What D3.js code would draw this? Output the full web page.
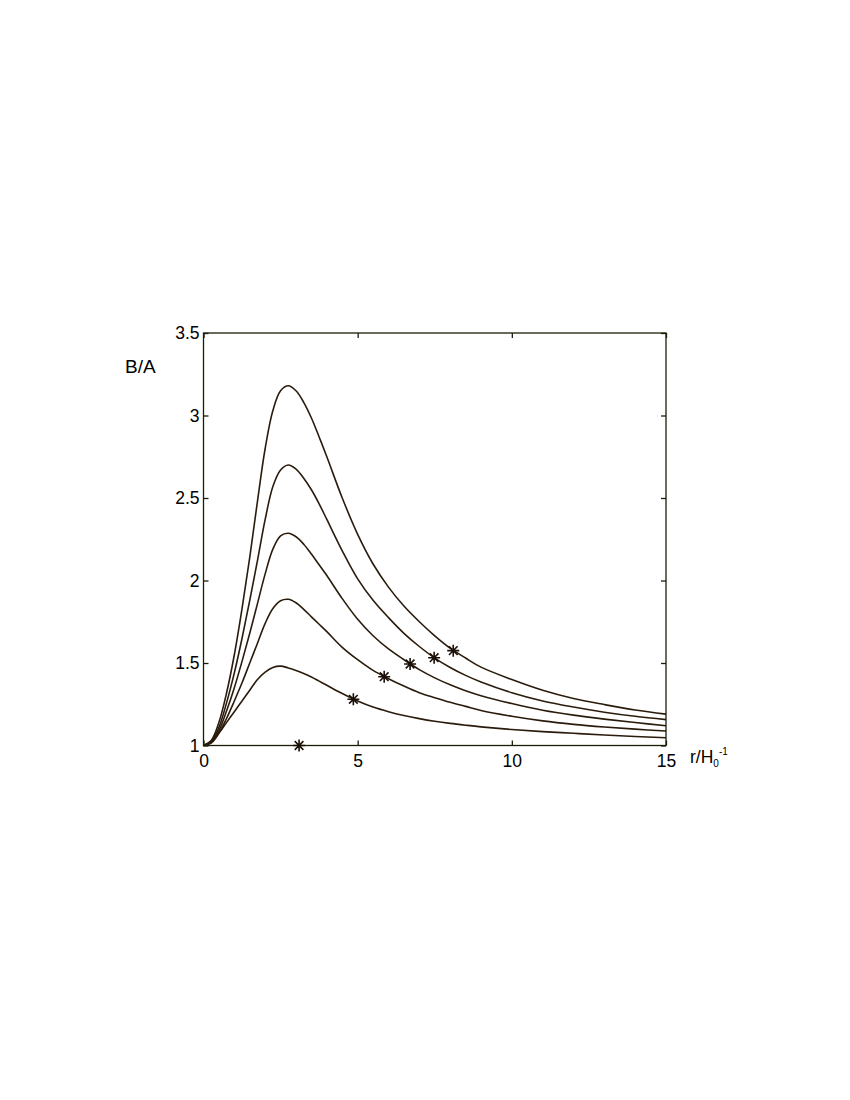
<!DOCTYPE html>
<html><head><meta charset="utf-8">
<script src="https://cdn.jsdelivr.net/npm/d3@7"></script>
<style>body{margin:0;background:#fff}svg{display:block}text{font-family:"Liberation Sans",Arial,sans-serif;fill:#000}</style>
</head><body><svg id="c" width="850" height="1100"></svg>
<script>
const rGrid = [0,0.25,0.5,0.75,1,1.25,1.5,1.75,2,2.25,2.5,2.75,3,3.25,3.5,3.75,4,4.5,5,5.5,6,6.5,7,7.5,8,8.5,9,10,11,12,13,14,15];
const curve1 = [1,1.03,1.14,1.32,1.55,1.83,2.14,2.48,2.80,3.03,3.15,3.18,3.15,3.08,2.985,2.87,2.75,2.50,2.28,2.10,1.96,1.845,1.75,1.665,1.59,1.53,1.475,1.40,1.335,1.285,1.248,1.215,1.19];
const curve2 = [1,1.025,1.11,1.26,1.44,1.65,1.88,2.12,2.37,2.57,2.67,2.70,2.675,2.62,2.55,2.465,2.37,2.18,2.01,1.88,1.775,1.68,1.60,1.53,1.473,1.425,1.385,1.32,1.27,1.233,1.202,1.177,1.157];
const curve3 = [1,1.02,1.09,1.21,1.35,1.51,1.68,1.86,2.04,2.19,2.27,2.286,2.265,2.22,2.16,2.095,2.03,1.89,1.765,1.665,1.585,1.52,1.46,1.41,1.368,1.332,1.302,1.254,1.214,1.184,1.16,1.139,1.12];
const curve4 = [1,1.015,1.075,1.165,1.27,1.38,1.50,1.62,1.74,1.83,1.877,1.886,1.865,1.825,1.78,1.735,1.69,1.595,1.52,1.455,1.405,1.36,1.32,1.29,1.262,1.237,1.212,1.177,1.149,1.128,1.112,1.099,1.088];
const curve5 = [1,1.02,1.075,1.14,1.205,1.27,1.335,1.40,1.445,1.473,1.481,1.47,1.455,1.437,1.415,1.39,1.365,1.315,1.27,1.233,1.205,1.182,1.163,1.147,1.134,1.123,1.113,1.097,1.084,1.074,1.064,1.055,1.047];
const starR = [3.10,4.86,5.86,6.70,7.48,8.10];
const starV = [1.0,1.28,1.417,1.494,1.532,1.575];
const xTicks = [0,5,10,15];
const yTicks = [1,1.5,2,2.5,3,3.5];
const yTickLabels = ["1","1.5","2","2.5","3","3.5"];

const svg = d3.select("#c");
const L=203.5,R=666,T=333,B=745.5;
const x = d3.scaleLinear().domain([0,15]).range([L,R]);
const y = d3.scaleLinear().domain([1,3.5]).range([B,T]);
const axisCol="#1c1c08", lineCol="#2a1c0c";

const line = d3.line().x(d=>x(d[0])).y(d=>y(d[1])).curve(d3.curveCatmullRom.alpha(0.5));
[curve1,curve2,curve3,curve4,curve5].forEach(c=>{
  svg.append("path").datum(rGrid.map((r,i)=>[r,c[i]]))
    .attr("d",line).attr("fill","none").attr("stroke",lineCol).attr("stroke-width",1.6);
});

// frame
svg.append("rect").attr("x",L).attr("y",T).attr("width",R-L).attr("height",B-T)
  .attr("fill","none").attr("stroke",axisCol).attr("stroke-width",1.3);

const gx = svg.append("g").attr("transform",`translate(0,${B})`)
  .call(d3.axisBottom(x).tickValues(xTicks).tickSize(-5).tickPadding(9).tickFormat(d3.format("d")));
const gxt = svg.append("g").attr("transform",`translate(0,${T})`)
  .call(d3.axisTop(x).tickValues(xTicks).tickSize(-5).tickFormat(""));
const gy = svg.append("g").attr("transform",`translate(${L},0)`)
  .call(d3.axisLeft(y).tickValues(yTicks).tickSize(-5).tickPadding(4).tickFormat((d,i)=>yTickLabels[i]));
const gyr = svg.append("g").attr("transform",`translate(${R},0)`)
  .call(d3.axisRight(y).tickValues(yTicks).tickSize(-5).tickFormat(""));
[gx,gxt,gy,gyr].forEach(g=>{
  g.select(".domain").remove();
  g.selectAll(".tick line").attr("stroke",axisCol).attr("stroke-width",1.3);
  g.selectAll("text").attr("font-size",17.5).attr("fill","#000").style("font-family","Liberation Sans, Arial, sans-serif");
});

// star markers
const s=6;
const stars = svg.append("g").attr("stroke","#1a1008").attr("stroke-width",1.6);
starR.forEach((r,i)=>{
  const cx=x(r), cy=y(starV[i]);
  stars.append("path").attr("d",
    `M${cx-s},${cy}L${cx+s},${cy}M${cx},${cy-s}L${cx},${cy+s}`+
    `M${cx-s*0.72},${cy-s*0.72}L${cx+s*0.72},${cy+s*0.72}M${cx-s*0.72},${cy+s*0.72}L${cx+s*0.72},${cy-s*0.72}`);
});

// labels
svg.append("text").attr("x",125).attr("y",373).attr("font-size",19).text("B/A");
const xl = svg.append("text").attr("x",690).attr("y",763).attr("font-size",17.5);
xl.append("tspan").text("r/H");
xl.append("tspan").attr("font-size",10).attr("dy",4).text("0");
xl.append("tspan").attr("font-size",10).attr("dy",-12).text("-1");
</script></body></html>
